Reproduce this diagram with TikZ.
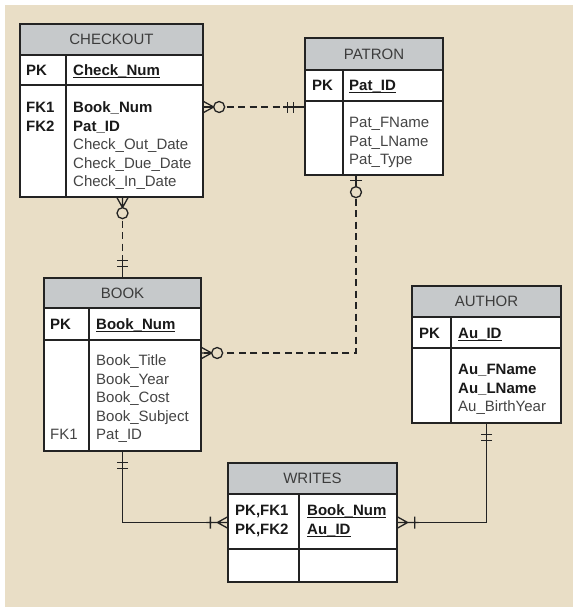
\documentclass[tikz,border=0pt]{standalone}
\usepackage{fontspec}
\setmainfont{Liberation Sans}
\definecolor{bg}{RGB}{233,222,198}
\definecolor{hdr}{RGB}{198,201,203}
\definecolor{ln}{RGB}{35,35,35}
\definecolor{ttl}{RGB}{60,60,60}
\definecolor{txt}{RGB}{68,68,68}
\definecolor{bld}{RGB}{25,25,25}
\newcommand{\ulbox}[1]{\setbox0\hbox{#1}\rlap{\rule[-2.6pt]{\wd0}{0.9pt}}\box0}
\tikzset{
  ent/.style={draw=ln, line width=1.3pt, fill=white, inner sep=0pt},
  conn/.style={draw=ln, line width=1.3pt},
  dsh/.style={conn, dash pattern=on 7pt off 4.5pt},
  lbl/.style={anchor=base west, inner sep=0pt, text=txt, font=\fontsize{15}{18}\selectfont},
  bl/.style={lbl, text=bld, font=\fontsize{15}{18}\selectfont\bfseries},
  ttlst/.style={inner sep=0pt, text=ttl, font=\fontsize{15}{18}\selectfont},
  zeromany/.pic={
    \draw[conn] (0,5.5) -- (10,0) -- (0,-5.5) (0,0) -- (10,0);
    \draw[conn, fill=bg] (15.5,0) circle (5.5pt);
  },
  onemany/.pic={
    \draw[conn] (0,5.5) -- (10,0) -- (0,-5.5) (0,0) -- (21,0) (17,-6) -- (17,6);
  },
  onlyone/.pic={
    \draw[conn] (0,0) -- (21,0) (11,-5.5) -- (11,5.5) (17,-5.5) -- (17,5.5);
  },
  zeroone/.pic={
    \draw[conn] (0,0) -- (11,0) (5,-6) -- (5,6);
    \draw[conn, fill=bg] (16.5,0) circle (5.5pt);
  }
}
\begin{document}
\begin{tikzpicture}[x=1pt,y=-1pt]
\useasboundingbox (0,0) rectangle (582,613);
\fill[bg] (5,5) rectangle (573,607);

% ---------- entity boxes
\node[ent, minimum width=183pt, minimum height=173pt] (checkout) at (111.5,110.5) {};
\node[ent, minimum width=138pt, minimum height=137pt] (patron) at (374,106.5) {};
\node[ent, minimum width=157pt, minimum height=173pt] (book) at (122.5,364.5) {};
\node[ent, minimum width=149pt, minimum height=137pt] (author) at (486.5,354.5) {};
\node[ent, minimum width=169pt, minimum height=119pt] (writes) at (312.5,522.5) {};

% headers and inner lines
\filldraw[conn, fill=hdr] (20,24) rectangle (203,55);
\draw[conn] (20,85) -- (203,85) (66,55) -- (66,197);
\filldraw[conn, fill=hdr] (305,38) rectangle (443,70);
\draw[conn] (305,101) -- (443,101) (343,70) -- (343,175);
\filldraw[conn, fill=hdr] (44,278) rectangle (201,308);
\draw[conn] (44,340) -- (201,340) (89,308) -- (89,451);
\filldraw[conn, fill=hdr] (412,286) rectangle (561,317);
\draw[conn] (412,348) -- (561,348) (451,317) -- (451,423);
\filldraw[conn, fill=hdr] (228,463) rectangle (397,494);
\draw[conn] (228,549) -- (397,549) (299,494) -- (299,582);

% ---------- CHECKOUT
\node[ttlst] (co-t) at (111.5,39.5) {CHECKOUT};
\node[bl] (co-pk) at (26,75.5) {PK};
\node[bl] (co-k) at (73,75.5) {\ulbox{Check\_Num}};
\node[bl] (co-f1) at (26,112.5) {FK1};
\node[bl] (co-f2) at (26,131) {FK2};
\node[bl] (co-a1) at (73,112.5) {Book\_Num};
\node[bl] (co-a2) at (73,131) {Pat\_ID};
\node[lbl] (co-a3) at (73,149.5) {Check\_Out\_Date};
\node[lbl] (co-a4) at (73,168) {Check\_Due\_Date};
\node[lbl] (co-a5) at (73,186.5) {Check\_In\_Date};

% ---------- PATRON
\node[ttlst] (pa-t) at (374,54) {PATRON};
\node[bl] (pa-pk) at (312,90.5) {PK};
\node[bl] (pa-k) at (349,90.5) {\ulbox{Pat\_ID}};
\node[lbl] (pa-a1) at (349,127.5) {Pat\_FName};
\node[lbl] (pa-a2) at (349,146) {Pat\_LName};
\node[lbl] (pa-a3) at (349,164.5) {Pat\_Type};

% ---------- BOOK
\node[ttlst] (bo-t) at (122.5,293) {BOOK};
\node[bl] (bo-pk) at (50,329.5) {PK};
\node[bl] (bo-k) at (96,329.5) {\ulbox{Book\_Num}};
\node[lbl] (bo-a1) at (96,365.5) {Book\_Title};
\node[lbl] (bo-a2) at (96,384) {Book\_Year};
\node[lbl] (bo-a3) at (96,402.5) {Book\_Cost};
\node[lbl] (bo-a4) at (96,421) {Book\_Subject};
\node[lbl] (bo-f1) at (50,439.5) {FK1};
\node[lbl] (bo-a5) at (96,439.5) {Pat\_ID};

% ---------- AUTHOR
\node[ttlst] (au-t) at (486.5,301.5) {AUTHOR};
\node[bl] (au-pk) at (419,338.5) {PK};
\node[bl] (au-k) at (458,338.5) {\ulbox{Au\_ID}};
\node[bl] (au-a1) at (458,374.5) {Au\_FName};
\node[bl] (au-a2) at (458,393) {Au\_LName};
\node[lbl] (au-a3) at (458,411.5) {Au\_BirthYear};

% ---------- WRITES
\node[ttlst] (wr-t) at (312.5,478.5) {WRITES};
\node[bl] (wr-pk1) at (235,515.5) {PK,FK1};
\node[bl] (wr-pk2) at (235,534) {PK,FK2};
\node[bl] (wr-k1) at (307,515.5) {\ulbox{Book\_Num}};
\node[bl] (wr-k2) at (307,534) {\ulbox{Au\_ID}};

% ---------- connectors
\coordinate (c1a) at ([yshift=3.5pt]checkout.east);
\coordinate (c1b) at (c1a -| patron.west);
\draw[dsh] (c1a) -- (c1b);
\pic[rotate=0] at (c1a) {zeromany};
\pic[rotate=180] at (c1b) {onlyone};

\coordinate (c2a) at (book.north |- checkout.south);
\coordinate (c2b) at (book.north);
\draw[dsh] (c2a) -- (c2b);
\pic[rotate=-90] at (c2a) {zeromany};
\pic[rotate=90] at (c2b) {onlyone};

\coordinate (c3a) at ([xshift=-18pt]patron.south);
\coordinate (c3b) at ([yshift=11.5pt]book.east);
\draw[dsh] (c3a) |- (c3b);
\pic[rotate=-90] at (c3a) {zeroone};
\pic[rotate=0] at (c3b) {zeromany};

\draw[conn] (book.south) |- (writes.west);
\pic[rotate=-90] at (book.south) {onlyone};
\pic[rotate=180] at (writes.west) {onemany};

\draw[conn] (author.south) |- (writes.east);
\pic[rotate=-90] at (author.south) {onlyone};
\pic[rotate=0] at (writes.east) {onemany};
\end{tikzpicture}
\end{document}
